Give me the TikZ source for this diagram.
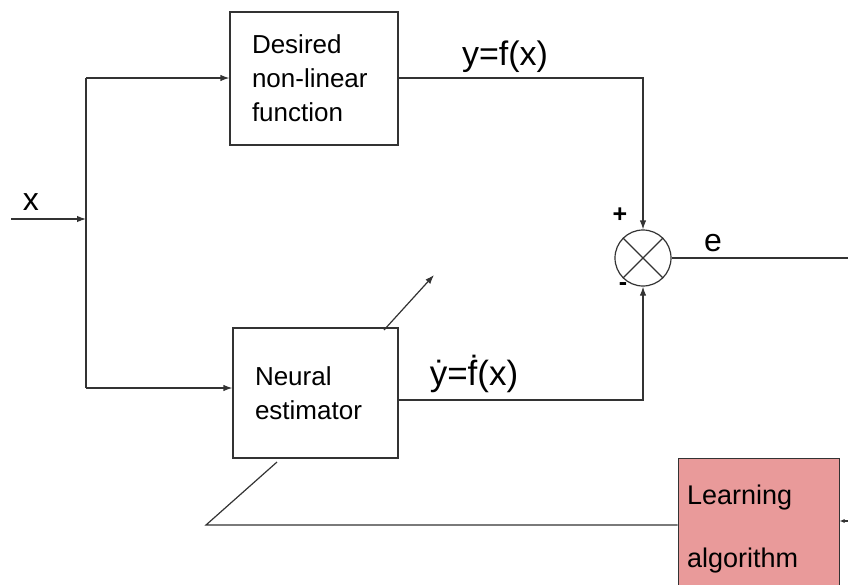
\documentclass[tikz,border=0pt]{standalone}
\usepackage{fontspec}
\setmainfont{Liberation Sans}
\usetikzlibrary{arrows.meta}
\definecolor{ink}{HTML}{333333}
\definecolor{learnfill}{HTML}{E99A9A}
\begin{document}
\begin{tikzpicture}[x=1pt,y=1pt,
  wire/.style={draw=ink, line width=1.2pt},
  arr/.style={wire, -{Latex[length=9pt,width=6.5pt]}},
  blockbox/.style={draw=ink, line width=1.2pt, rectangle, align=left, inner xsep=22pt,
    font=\fontsize{26}{34}\selectfont},
  lbl/.style={inner sep=0pt, font=\fontsize{34}{36}\selectfont}]
\useasboundingbox (0,0) rectangle (848,-584);
\clip (0,0) rectangle (848,-584);

% blocks
\node[blockbox, minimum width=168, minimum height=133, text width=124] (des) at (314,-78.5)
  {Desired\\non-linear\\function};
\node[blockbox, minimum width=165, minimum height=130, text width=121] (neu) at (315.5,-393)
  {Neural\\estimator};
\node[draw=ink, line width=1pt, fill=learnfill, minimum width=161, minimum height=142,
  align=left, inner xsep=9pt, text width=143, font=\fontsize{27}{63}\selectfont] (learn) at (758.5,-529)
  {Learning\\algorithm};

% summing junction
\node[draw=ink, line width=1.2pt, circle, minimum size=56, inner sep=0pt] (sum) at (643,-258) {};
\draw[wire] (sum.north west) -- (sum.south east);
\draw[wire] (sum.north east) -- (sum.south west);

% input and branching
\coordinate (xin) at (11,-219);
\coordinate (xjoin) at (86,-219);
\coordinate (ttop) at (86,-78);
\coordinate (tbot) at (86,-388);
\draw[arr] (xin) -- (xjoin);
\draw[wire] (ttop) -- (tbot);
\draw[arr] (ttop) -- (des.west |- ttop);
\draw[arr] (tbot) -- (neu.west |- tbot);

% outputs into the junction
\draw[arr] (des.east |- ttop) -| (sum.north);
\coordinate (nout) at (398,-400);
\draw[arr] (nout) -| (sum.south);

% error output
\coordinate (eout) at (848,-258);
\draw[wire] (sum.east) -- (eout);

% adaptation arrow across the estimator
\coordinate (adapt0) at (384,-330);
\coordinate (adapt1) at (434,-275);
\draw[arr] (adapt0) -- (adapt1);

% feedback from the learning algorithm
\coordinate (fb0) at (277,-462);
\coordinate (fb1) at (206,-525);
\draw[wire] (fb0) -- (fb1) -- (learn.west |- fb1);
\coordinate (ein) at (849,-521);
\draw[wire, -{Latex[length=5pt,width=4pt]}] (ein) -- (learn.east |- ein);

% labels
\node[lbl, font=\fontsize{32}{34}\selectfont] (xl) at (31,-202) {x};
\node[lbl] (yl) at (505,-57) {y=f(x)};
\node[lbl, font=\fontsize{35}{36}\selectfont] (yhl) at (474,-374) {ẏ=ḟ(x)};
\node[lbl, font=\fontsize{32}{34}\selectfont] (el) at (713,-243) {e};
\node[lbl, font=\bfseries\fontsize{25}{26}\selectfont] (pl) at (620,-215) {+};
\node[lbl, font=\bfseries\fontsize{25}{26}\selectfont] (ml) at (623,-287) {-};
\end{tikzpicture}
\end{document}
